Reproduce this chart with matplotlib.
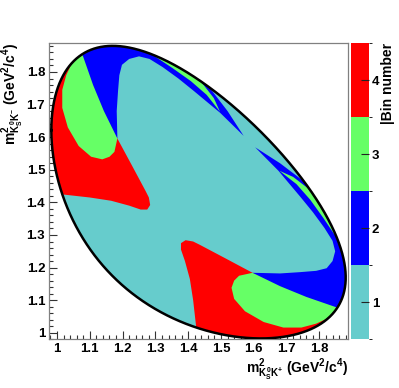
import numpy as np
import matplotlib
matplotlib.use('Agg')
import matplotlib.pyplot as plt
from matplotlib.patches import Polygon
from matplotlib.colors import ListedColormap, BoundaryNorm
import matplotlib.ticker as mticker
import matplotlib.colorbar as mcolorbar

plt.rcParams['font.family'] = ['Liberation Sans', 'DejaVu Sans']
plt.rcParams['font.weight'] = 'bold'
plt.rcParams['mathtext.fontset'] = 'custom'
plt.rcParams['mathtext.rm'] = 'Liberation Sans:bold'
plt.rcParams['mathtext.it'] = 'Liberation Sans:bold'
plt.rcParams['mathtext.bf'] = 'Liberation Sans:bold'

# ---- physics constants (GeV) for the Dalitz boundary of D0 -> KS K+ K-
M_D = 1.86484
M_KS = 0.497611
M_K = 0.493677

# ---- bins
bin_numbers = [1, 2, 3, 4]
bin_colors = ['#66cccc', '#0000ff', '#66ff66', '#ff0000']

# ---- bin regions (half below the diagonal; mirrored above)
red_x = [1.426, 1.424, 1.415, 1.405, 1.390, 1.378, 1.378, 1.392, 1.415, 1.435,
         1.514, 1.596, 1.680, 1.850, 1.970, 1.970]
red_y = [0.950, 1.020, 1.100, 1.165, 1.220, 1.255, 1.275, 1.284, 1.280, 1.270,
         1.228, 1.184, 1.160, 1.100, 1.100, 0.950]

green_x = [1.596, 1.555, 1.540, 1.532, 1.540, 1.573, 1.630, 1.690, 1.745, 1.790,
           1.820, 1.840, 1.856, 1.850, 1.680]
green_y = [1.184, 1.175, 1.160, 1.138, 1.104, 1.066, 1.033, 1.016, 1.016, 1.028,
           1.042, 1.058, 1.085, 1.100, 1.160]

blue_x = [1.596, 1.640, 1.680, 1.741, 1.790, 1.822, 1.840, 1.848, 1.840, 1.815,
          1.780, 1.741, 1.700, 1.675, 1.604, 1.680, 1.748, 1.794, 1.900, 1.970,
          1.970, 1.900, 1.852, 1.760, 1.680]
blue_y = [1.184, 1.183, 1.182, 1.186, 1.190, 1.198, 1.220, 1.250, 1.282, 1.322,
          1.370, 1.418, 1.467, 1.497, 1.569, 1.520, 1.468, 1.412, 1.450, 1.250,
          1.080, 1.075, 1.078, 1.110, 1.143]

sliver_x = [1.678, 1.720, 1.760, 1.792, 1.860, 1.900, 1.848, 1.812, 1.772, 1.730]
sliver_y = [1.497, 1.478, 1.447, 1.418, 1.450, 1.320, 1.298, 1.352, 1.408, 1.456]

regions = [(red_x, red_y, 4), (green_x, green_y, 3), (blue_x, blue_y, 2),
           (sliver_x, sliver_y, 3)]

x_ticks = [1.0, 1.1, 1.2, 1.3, 1.4, 1.5, 1.6, 1.7, 1.8]
x_ticklabels = ['1', '1.1', '1.2', '1.3', '1.4', '1.5', '1.6', '1.7', '1.8']


def dalitz_boundary(n=800):
    lo = (M_KS + M_K) ** 2
    hi = (M_D - M_K) ** 2
    t = 0.5 - 0.5 * np.cos(np.linspace(0, np.pi, n))
    s = lo + (hi - lo) * t
    rs = np.sqrt(s)
    e1 = (s - M_K ** 2 + M_KS ** 2) / (2 * rs)
    e3 = (M_D ** 2 - s - M_K ** 2) / (2 * rs)
    p1 = np.sqrt(np.clip(e1 ** 2 - M_KS ** 2, 0, None))
    p3 = np.sqrt(np.clip(e3 ** 2 - M_K ** 2, 0, None))
    ymax = (e1 + e3) ** 2 - (p1 - p3) ** 2
    ymin = (e1 + e3) ** 2 - (p1 + p3) ** 2
    bx = np.concatenate([s, s[::-1]])
    by = np.concatenate([ymax, ymin[::-1]])
    return bx, by


W, H = 399, 388
fig = plt.figure(figsize=(W / 100, H / 100), dpi=100)
fig.patch.set_facecolor('white')

L, R, T, B = 49.3, 348.3, 43.3, 339.3
ax = fig.add_axes([L / W, 1 - B / H, (R - L) / W, (B - T) / H])
ax.set_xlim(0.9765, 1.888)
ax.set_ylim(0.980, 1.888)

bx, by = dalitz_boundary()
bound = Polygon(np.column_stack([bx, by]), closed=True, facecolor=bin_colors[0],
                edgecolor='none', zorder=1)
ax.add_patch(bound)

for rx, ry, b in regions:
    col = bin_colors[bin_numbers.index(b)]
    for px, py in ((rx, ry), (ry, rx)):
        p = Polygon(np.column_stack([px, py]), closed=True, facecolor=col,
                    edgecolor='none', zorder=2, antialiased=True)
        ax.add_patch(p)
        p.set_clip_path(bound)

ax.plot(np.append(bx, bx[0]), np.append(by, by[0]), color='black', lw=1.8,
        zorder=5, solid_joinstyle='round')

for sp in ax.spines.values():
    sp.set_color('#808080')
    sp.set_linewidth(0.9)

ax.set_xticks(x_ticks)
ax.set_xticklabels(x_ticklabels)
ax.set_yticks(x_ticks)
ax.set_yticklabels(x_ticklabels)
ax.xaxis.set_minor_locator(mticker.MultipleLocator(0.02))
ax.yaxis.set_minor_locator(mticker.MultipleLocator(0.02))
ax.tick_params(which='major', direction='in', length=5.5, width=0.8, color='#333333',
               labelsize=9.5, pad=3, top=False, right=False)
ax.tick_params(which='minor', direction='in', length=2.8, width=0.8, color='#333333',
               top=False, right=False)
for lab in ax.get_xticklabels() + ax.get_yticklabels():
    lab.set_fontweight('bold')

# colour bar
cax = fig.add_axes([351 / W, 1 - B / H, 18 / W, (B - T) / H])
cmap = ListedColormap(bin_colors)
norm = BoundaryNorm([0.5, 1.5, 2.5, 3.5, 4.5], cmap.N)
cb = mcolorbar.ColorbarBase(cax, cmap=cmap, norm=norm, ticks=bin_numbers,
                            orientation='vertical')
cb.outline.set_visible(False)
cax.tick_params(direction='in', length=6, width=0.8, color='#222222',
                labelsize=9.5, pad=2)
cax.set_yticklabels([str(b) for b in bin_numbers])
for lab in cax.get_yticklabels():
    lab.set_fontweight('bold')

fig.text(388 / W, 1 - 43 / H, '|Bin number', rotation=90, ha='center', va='top',
         fontsize=10, fontweight='bold')

fig.text(348 / W, 1 - 373 / H,
         r'$m^{2}_{K^{0}_{S}K^{+}}$ (GeV$^{2}$/c$^{4}$)',
         ha='right', va='baseline', fontsize=10, fontweight='bold')
fig.text(13 / W, 1 - 43 / H,
         r'$m^{2}_{K^{0}_{S}K^{-}}$ (GeV$^{2}$/c$^{4}$)',
         ha='center', va='top', rotation=90, fontsize=10, fontweight='bold')

fig.savefig('out.png', dpi=100)
